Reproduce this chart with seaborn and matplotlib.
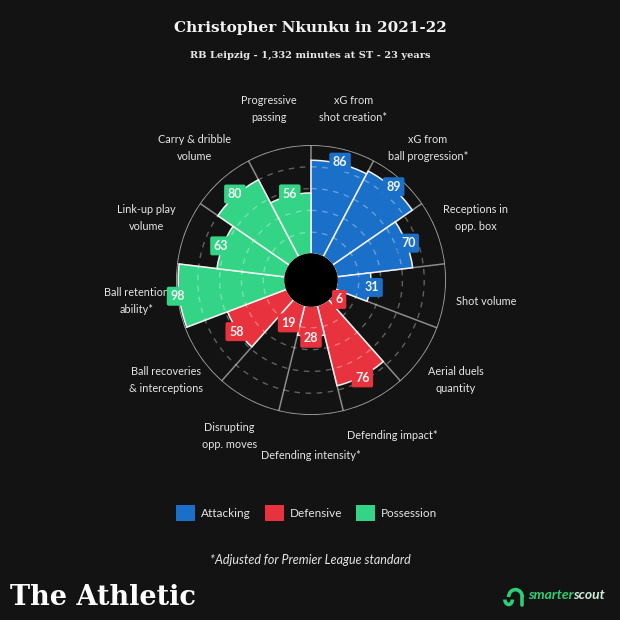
import numpy as np
import matplotlib.pyplot as plt
import seaborn as sns
from matplotlib.patches import Patch, Circle, Arc

# dados do gráfico (sentido horário a partir do topo)
metricas = ['xG from\nshot creation*', 'xG from\nball progression*', 'Receptions in\nopp. box',
            'Shot volume', 'Aerial duels\nquantity', 'Defending impact*', 'Defending intensity*',
            'Disrupting\nopp. moves', 'Ball recoveries\n& interceptions', 'Ball retention\nability*',
            'Link-up play\nvolume', 'Carry & dribble\nvolume', 'Progressive\npassing']
valores = [86, 89, 70, 31, 6, 76, 28, 19, 58, 98, 63, 80, 56]
grupos = ['Attacking'] * 4 + ['Defensive'] * 5 + ['Possession'] * 4
grupos_legenda = ['Attacking', 'Defensive', 'Possession']
aneis = [20, 40, 60, 80]

fundo = '#131313'
verde_logo = '#2ccf78'
cores = dict(zip(grupos_legenda, sns.color_palette(['#1a6fc9', '#e8323d', '#33d486'])))

sns.set_theme(style='dark', rc={'figure.facecolor': fundo, 'axes.facecolor': fundo,
                                'savefig.facecolor': fundo, 'text.color': '#e6e6e6'})
plt.rcParams['font.family'] = ['Lato', 'DejaVu Sans']

fig = plt.figure(figsize=(6.2, 6.2), dpi=100)
ax = fig.add_axes([0.2839, 0.3306, 0.4355, 0.4355], projection='polar')
ax.set_theta_zero_location('N')
ax.set_theta_direction(-1)
ax.set_ylim(0, 100)
ax.set_rorigin(-23.9)
ax.grid(False)
ax.set_xticks([])
ax.set_yticks([])
ax.spines['polar'].set_visible(False)

n = len(valores)
largura = 2 * np.pi / n
angulos = np.arange(n) * largura + largura / 2

# raios (linhas divisórias) e círculo externo
for a in np.arange(n) * largura:
    ax.plot([a, a], [0, 100], color='#8c8c8c', lw=1.1, zorder=1)
tt = np.linspace(0, 2 * np.pi, 400)
ax.plot(tt, np.full_like(tt, 100), color='#a0a0a0', lw=1.3, zorder=1)

# barras
ax.bar(angulos, valores, width=largura, bottom=0,
       color=[cores[g] for g in grupos], edgecolor='#f2f2f2', linewidth=1.1, zorder=2)

# anéis tracejados
for r in aneis:
    ax.plot(tt, np.full_like(tt, r), color='white', alpha=0.33, lw=1.0,
            linestyle=(0, (4, 4)), zorder=3)

# buraco central (fora do patch anelar do eixo, por isso clip_on=False)
ax.add_patch(Circle((0.5, 0.5), 0.5 * 24.6 / 123.9, transform=ax.transAxes,
                    facecolor='#000000', edgecolor='none', zorder=6, clip_on=False))

# rótulos dos valores
for a, v, g in zip(angulos, valores, grupos):
    ax.text(a, v + 1.5, str(v), ha='center', va='center', fontsize=9, fontweight='bold',
            color='#f4f4f4', zorder=8,
            bbox=dict(boxstyle='round,pad=0.28,rounding_size=0.15', fc=cores[g], ec='none'))

# rótulos das métricas
for a, m in zip(angulos, metricas):
    ax.text(a, 137.6, m, ha='center', va='center', fontsize=7.8, color='#e6e6e6',
            linespacing=1.65, clip_on=False)

fig.text(0.5, 0.955, 'Christopher Nkunku in 2021-22', ha='center', va='center',
         fontsize=11, fontweight='bold', family='DejaVu Serif', color='#f2f2f2')
fig.text(0.5, 0.910, 'RB Leipzig - 1,332 minutes at ST - 23 years', ha='center', va='center',
         fontsize=7.1, fontweight='bold', family='DejaVu Serif', color='#e6e6e6')

handles = [Patch(facecolor=cores[g], edgecolor='none', label=g) for g in grupos_legenda]
fig.legend(handles=handles, loc='center', bbox_to_anchor=(0.495, 0.1726), ncol=3,
           frameon=False, fontsize=8.5, handlelength=1.6, handleheight=1.6,
           handletextpad=0.5, columnspacing=1.2, labelcolor='#e6e6e6')

fig.text(0.5, 0.097, '*Adjusted for Premier League standard', ha='center', va='center',
         fontsize=9, style='italic', color='#e6e6e6')
fig.text(0.016, 0.037, 'The Athletic', ha='left', va='center', fontsize=19.5,
         fontweight='bold', family='DejaVu Serif', color='white')

# logo smarterscout
scout = fig.text(0.976, 0.040, 'scout', ha='right', va='center', fontsize=10, style='italic',
                 fontweight='bold', color='#cdeed8')
fig.canvas.draw()
x_esq = fig.transFigure.inverted().transform(scout.get_window_extent().p0)[0]
smarter = fig.text(x_esq, 0.040, 'smarter', ha='right', va='center', fontsize=10,
                   style='italic', fontweight='bold', color=verde_logo)
fig.canvas.draw()
x_icone = fig.transFigure.inverted().transform(smarter.get_window_extent().p0)[0] - 0.02
fig.add_artist(Arc((x_icone, 0.037), 0.022, 0.024, theta1=0, theta2=180,
                   transform=fig.transFigure, color=verde_logo, lw=2.6))
fig.add_artist(Arc((x_icone - 0.011, 0.033), 0.012, 0.016, theta1=180, theta2=360,
                   transform=fig.transFigure, color=verde_logo, lw=2.6))
fig.lines.append(plt.Line2D([x_icone + 0.011, x_icone + 0.011], [0.037, 0.025],
                            transform=fig.transFigure, color=verde_logo, lw=2.6))

fig.savefig('out.png', dpi=100)
